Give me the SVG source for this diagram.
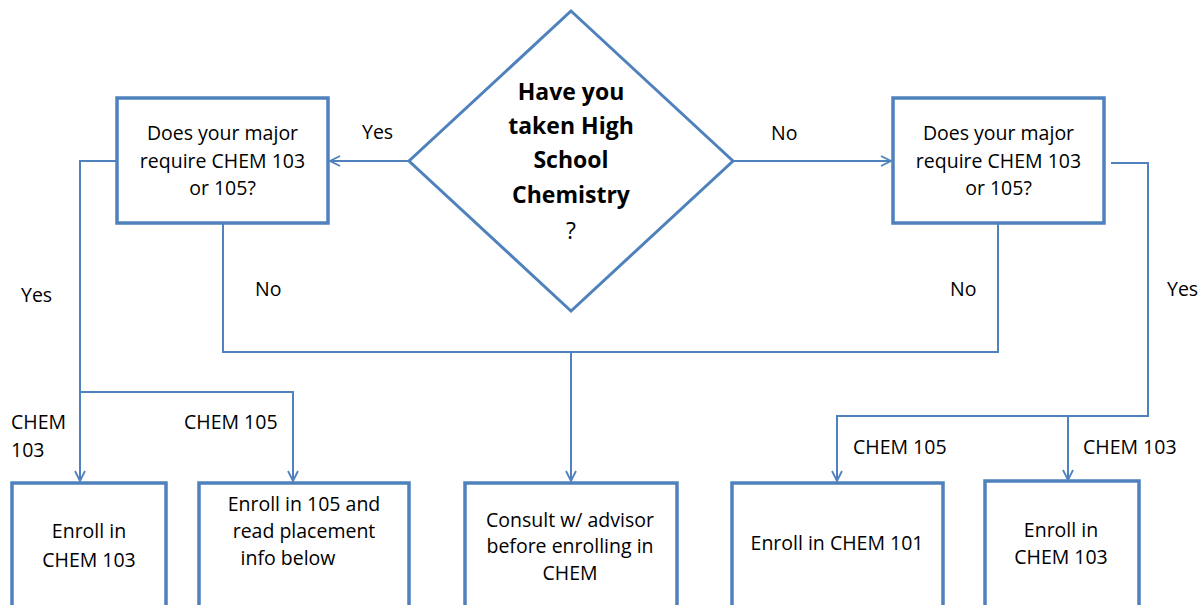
<svg xmlns="http://www.w3.org/2000/svg" width="1201" height="605" viewBox="0 0 1201 605">
<style>
.box{fill:#fff;stroke:#4f81bd;stroke-width:3.5}
.dia{fill:#fff;stroke:#4f81bd;stroke-width:3}
.c{fill:none;stroke:#4f81bd;stroke-width:2}
.a{marker-end:url(#arr)}
text{font-family:"Open Sans","Liberation Sans",sans-serif;font-size:19.5px;fill:#000}
.m{text-anchor:middle}
.b{font-weight:bold;font-size:23px}
.q{font-size:23px}
</style>
<defs>
<marker id="arr" viewBox="0 0 12 12" refX="11" refY="6" markerWidth="12" markerHeight="12" markerUnits="userSpaceOnUse" orient="auto">
<path d="M1,1 L11,6 L1,11" fill="none" stroke="#4f81bd" stroke-width="1.8"/>
</marker>
</defs>
<rect width="1201" height="605" fill="#fff"/>
<g id="connectors">
<path class="c a" d="M409,161 H330"/>
<path class="c a" d="M733,161 H891"/>
<path class="c a" d="M117,161 H80 V481"/>
<path class="c a" d="M80,392 H293 V481"/>
<path class="c" d="M223,224 V352 H998 V224"/>
<path class="c a" d="M571,352 V481"/>
<path class="c a" d="M1111,163 H1148 V416 H1068 V480"/>
<path class="c a" d="M1068,416 H837 V481"/>
</g>
<g id="labels">
<text x="362" y="139">Yes</text>
<text x="771" y="140">No</text>
<text x="21" y="302">Yes</text>
<text x="255" y="296">No</text>
<text x="950" y="296">No</text>
<text x="1167" y="296">Yes</text>
<text x="11" y="429">CHEM</text>
<text x="11" y="457">103</text>
<text x="184" y="429">CHEM 105</text>
<text x="853" y="454">CHEM 105</text>
<text x="1083" y="454">CHEM 103</text>
</g>
<g id="start">
<polygon class="dia" points="571,11 733,161 571,311 409,161"/>
<text class="m b" x="571" y="100">Have you</text>
<text class="m b" x="571" y="134">taken High</text>
<text class="m b" x="571" y="168">School</text>
<text class="m b" x="571" y="203">Chemistry</text>
<text class="m q" x="571" y="239">?</text>
</g>
<g id="majorLeft">
<rect class="box" x="117" y="98" width="211" height="125"/>
<text class="m" x="222.5" y="140">Does your major</text>
<text class="m" x="222.5" y="168">require CHEM 103</text>
<text class="m" x="222.5" y="195">or 105?</text>
</g>
<g id="majorRight">
<rect class="box" x="893" y="98" width="211" height="125"/>
<text class="m" x="998.5" y="140">Does your major</text>
<text class="m" x="998.5" y="168">require CHEM 103</text>
<text class="m" x="998.5" y="195">or 105?</text>
</g>
<g id="enroll103Left">
<rect class="box" x="12" y="483" width="154" height="130"/>
<text class="m" x="89" y="538">Enroll in</text>
<text class="m" x="89" y="567">CHEM 103</text>
</g>
<g id="enroll105">
<rect class="box" x="199" y="483" width="210" height="130"/>
<text class="m" x="304" y="511">Enroll in 105 and</text>
<text class="m" x="304" y="538">read placement</text>
<text class="m" x="288" y="565">info below</text>
</g>
<g id="consult">
<rect class="box" x="465" y="483" width="212" height="130"/>
<text class="m" x="570" y="527">Consult w/ advisor</text>
<text class="m" x="570" y="553">before enrolling in</text>
<text class="m" x="570" y="580">CHEM</text>
</g>
<g id="enroll101">
<rect class="box" x="732" y="483" width="211" height="130"/>
<text class="m" x="837" y="550">Enroll in CHEM 101</text>
</g>
<g id="enroll103Right">
<rect class="box" x="985" y="481" width="154" height="130"/>
<text class="m" x="1061" y="537">Enroll in</text>
<text class="m" x="1061" y="564">CHEM 103</text>
</g>
</svg>
